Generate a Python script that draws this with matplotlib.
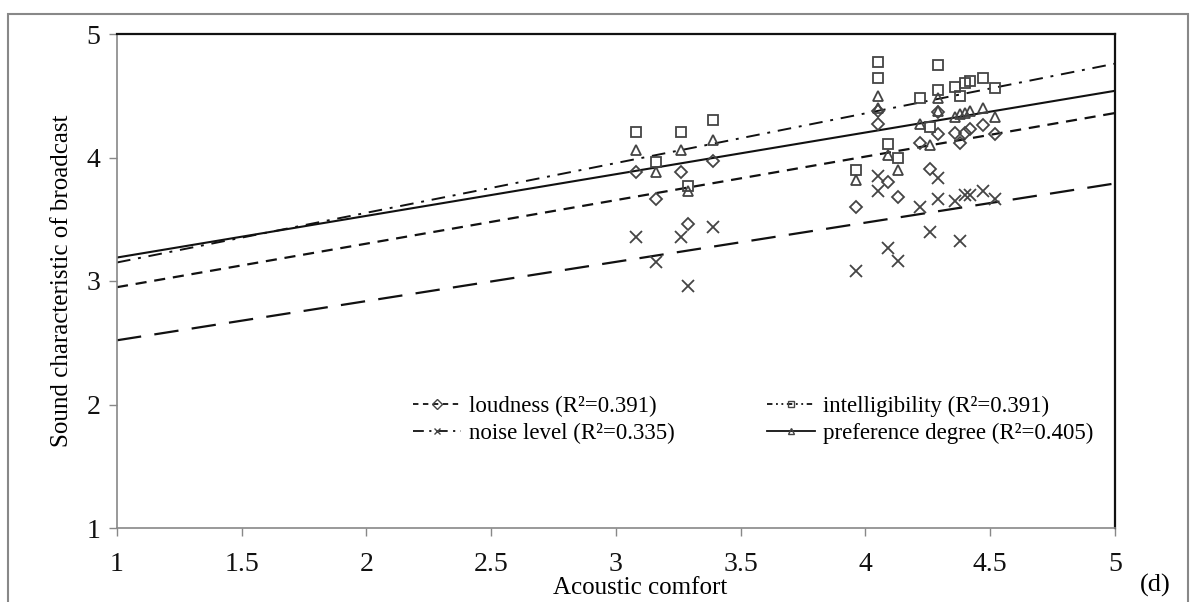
import matplotlib
matplotlib.use("Agg")
import matplotlib.pyplot as plt
from matplotlib.lines import Line2D
from matplotlib.patches import Rectangle
import numpy as np

plt.rcParams['font.family'] = ['Liberation Serif', 'DejaVu Serif']

# ---- data ----
x_left = [3.08, 3.16, 3.26, 3.29, 3.39]
x_right = [3.96, 4.05, 4.05, 4.09, 4.13, 4.22, 4.26, 4.29, 4.29, 4.36, 4.38, 4.40, 4.42, 4.47, 4.52]
comfort = x_left + x_right

loudness = [3.88, 3.66, 3.88, 3.46, 3.97,
            3.60, 4.38, 4.27, 3.80, 3.68, 4.12, 3.91, 4.37, 4.19, 4.20, 4.12, 4.20, 4.23, 4.26, 4.19]
intelligibility = [4.21, 3.96, 4.21, 3.77, 4.30,
                   3.90, 4.77, 4.64, 4.11, 4.00, 4.48, 4.25, 4.75, 4.55, 4.57, 4.50, 4.60, 4.62, 4.64, 4.56]
noise = [3.36, 3.15, 3.36, 2.96, 3.44,
         3.08, 3.85, 3.73, 3.27, 3.16, 3.60, 3.40, 3.83, 3.66, 3.65, 3.32, 3.70, 3.70, 3.73, 3.66]
preference = [4.06, 3.88, 4.06, 3.73, 4.14,
              3.82, 4.50, 4.40, 4.02, 3.90, 4.27, 4.10, 4.48, 4.38, 4.33, 4.35, 4.36, 4.38, 4.40, 4.33]

# regression lines: intercept, slope
fit_loudness = (2.5975, 0.3525)
fit_intelligibility = (2.7475, 0.4025)
fit_noise = (2.2025, 0.3175)
fit_preference = (2.8525, 0.3375)

labels = ["loudness (R\u00b2=0.391)", "intelligibility (R\u00b2=0.391)",
          "noise level (R\u00b2=0.335)", "preference degree (R\u00b2=0.405)"]

x_ticks = [1, 1.5, 2, 2.5, 3, 3.5, 4, 4.5, 5]
x_ticklabels = ["1", "1.5", "2", "2.5", "3", "3.5", "4", "4.5", "5"]
y_ticks = [1, 2, 3, 4, 5]

# ---- figure ----
fig = plt.figure(figsize=(11.97, 6.02), dpi=100)
ax = fig.add_axes([117/1197, 1-528/602, (1115-117)/1197, (528-34)/602])

mc = '#444444'
series = [
    (loudness, fit_loudness, 'D', 6.5, (0, (5, 3.5)), 1.6, (0, (3, 2.5))),
    (intelligibility, fit_intelligibility, 's', 7.5, (0, (7, 4, 1.5, 4)), 1.4, (0, (3, 2, 1, 2, 1, 2))),
    (noise, fit_noise, 'x', 9, (0, (11, 6)), 1.6, (0, (6, 3, 1.2, 3))),
    (preference, fit_preference, '^', 6.5, '-', 1.5, '-'),
]
xl = np.array([1.0, 5.0])
handles = []
for (vals, fit, mk, ms, ls, lw, lls), lab in zip(series, labels):
    ax.plot(comfort, vals, linestyle='none', marker=mk, markersize=ms,
            markerfacecolor='none', markeredgecolor=mc, markeredgewidth=1.3, zorder=3)
    ax.plot(xl, fit[0] + fit[1]*xl, color='#111111', linestyle=ls, linewidth=lw, zorder=2)
    handles.append(Line2D([0], [0], color='#111111', linestyle=lls, linewidth=1.3,
                          marker=mk, markersize=5, markerfacecolor='none',
                          markeredgecolor=mc, markeredgewidth=1.0))

ax.set_xlim(1, 5)
ax.set_ylim(1, 5)
ax.set_xticks(x_ticks)
ax.set_xticklabels(x_ticklabels)
ax.set_yticks(y_ticks)
ax.tick_params(axis='both', direction='out', length=6, width=1, color='#888888',
               labelsize=20, labelcolor='#111111')
ax.tick_params(axis='x', pad=11)
ax.tick_params(axis='y', pad=6)
for s in ['left', 'bottom']:
    ax.spines[s].set_color('#888888')
    ax.spines[s].set_linewidth(1.2)
for s in ['top', 'right']:
    ax.spines[s].set_color('#111111')
    ax.spines[s].set_linewidth(1.6)

ax.set_xlabel("Acoustic comfort", fontsize=18, va='center')
ax.xaxis.set_label_coords((640-117)/998, -(588-528)/494)
ax.set_ylabel("Sound characteristic of broadcast", fontsize=18, va='center')
ax.yaxis.set_label_coords(-(117-62)/998, 0.5)

order = [0, 2, 1, 3]
leg = ax.legend([handles[i] for i in order], [labels[i] for i in order], ncol=2,
                loc='lower left', bbox_to_anchor=(0.276, 0.129),
                frameon=False, fontsize=16.5, handlelength=2.1, columnspacing=4.0,
                handletextpad=0.35, labelspacing=0.25)

fig.text(1155/1197, 1-585/602, "(d)", fontsize=19, ha='center', va='center')
fig.patches.append(Rectangle((8/1197, -0.01), (1188-8)/1197, (594-0)/602,
                             transform=fig.transFigure, fill=False,
                             edgecolor='#888888', linewidth=1.5))

fig.savefig("out.png", dpi=100)
